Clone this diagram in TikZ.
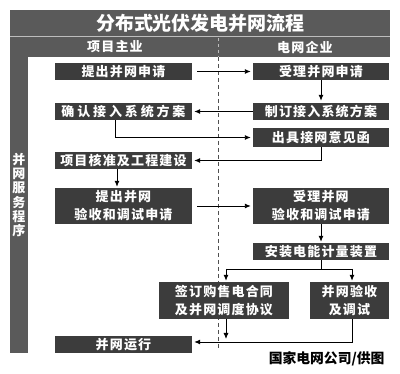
\documentclass[tikz,border=0pt]{standalone}
\usepackage{fontspec}
\newfontfamily\cjk{Noto Sans CJK SC}
\newfontfamily\cjksp[LetterSpace=9]{Noto Sans CJK SC}
\usetikzlibrary{arrows.meta}
\definecolor{framegray}{HTML}{5A5A5A}
\definecolor{boxgray}{HTML}{3C3C3C}
\definecolor{lightline}{HTML}{BDBDBD}
\definecolor{dashgray}{HTML}{505050}
\begin{document}
\begin{tikzpicture}[x=1pt,y=-1pt,
  flowbox/.style={fill=boxgray,text=white,inner sep=0pt,align=center,
    font=\cjksp\bfseries\fontsize{13}{18}\selectfont},
  conn/.style={line width=0.9pt,-{Latex[length=6pt,width=5pt]}},
  plain/.style={line width=0.9pt}]
\useasboundingbox (0,0) rectangle (400,374);
% frame
\fill[framegray] (10,10) rectangle (390,57);
\fill[framegray] (10,57) rectangle (28,353);
\draw[lightline,line width=0.8pt] (10,36.5) -- (390,36.5);
\draw[lightline,line width=0.8pt,dash pattern=on 3pt off 3pt] (218,38) -- (218,57);
\draw[dashgray,line width=0.8pt,dash pattern=on 4pt off 3pt] (218,57) -- (218,348);
\node[text=white,font=\cjk\bfseries\fontsize{19}{20}\selectfont] (title) at (200.5,23) {分布式光伏发电并网流程};
\node[text=white,font=\cjksp\bfseries\fontsize{13}{14}\selectfont] (hl) at (115,47) {项目主业};
\node[text=white,font=\cjksp\bfseries\fontsize{13}{14}\selectfont] (hr) at (305,47) {电网企业};
\node[text=white,font=\cjk\bfseries\fontsize{13}{14.2}\selectfont,align=center,inner sep=0pt] (side) at (19,195) {并\\网\\服\\务\\程\\序};
% boxes
\node[flowbox,minimum width=137pt,minimum height=17pt] (b1) at (123.5,71.5) {提出并网申请};
\node[flowbox,minimum width=136pt,minimum height=17pt] (b2) at (321,71.5) {受理并网申请};
\node[flowbox,minimum width=137pt,minimum height=17pt] (b3) at (123.5,111.5) {\addfontfeature{LetterSpace=22}确认接入系统方案};
\node[flowbox,minimum width=136pt,minimum height=17pt] (b4) at (321,111.5) {制订接入系统方案};
\node[flowbox,minimum width=136pt,minimum height=19pt] (b5) at (321,137.5) {出具接网意见函};
\node[flowbox,minimum width=137pt,minimum height=17pt] (b6) at (123.5,160.5) {项目核准及工程建设};
\node[flowbox,minimum width=137pt,minimum height=36pt] (b7) at (123.5,206) {提出并网\\验收和调试申请};
\node[flowbox,minimum width=136pt,minimum height=36pt] (b8) at (321,206) {受理并网\\验收和调试申请};
\node[flowbox,minimum width=136pt,minimum height=17pt] (b9) at (321,251.5) {安装电能计量装置};
\node[flowbox,minimum width=130pt,minimum height=37pt] (b10) at (224,300.5) {签订购售电合同\\及并网调度协议};
\node[flowbox,minimum width=79pt,minimum height=37pt] (b11) at (349.5,300.5) {并网验收\\及调试};
\node[flowbox,minimum width=137pt,minimum height=17pt] (b12) at (123.5,344.5) {并网运行};
\node[text=black,font=\cjk\bfseries\fontsize{13.8}{14}\selectfont,anchor=east] (credit) at (388,359) {国家电网公司/供图};
% connectors
\draw[conn,shorten <=5pt,shorten >=2pt] (b1) -- (b2);
\draw[conn,shorten >=2pt] (b2) -- (b4);
\draw[conn,shorten >=2pt] (b4) -- (b3);
\draw[conn,shorten >=2pt] ([xshift=-8.5pt]b3.south) |- (b5.west);
\draw[conn,shorten >=2pt] (b5.south) |- (b6.east);
\draw[conn,shorten >=1pt] ([xshift=-6.5pt]b6.south) -- ([xshift=-6.5pt]b7.north);
\draw[conn,shorten <=5pt,shorten >=2pt] (b7) -- (b8);
\draw[conn,shorten >=1pt] (b8) -- (b9);
\coordinate (split) at (321,269);
\coordinate (sl) at (226,269);
\coordinate (sr) at (352,269);
\draw[plain] (b9.south) -- (split);
\draw[plain] (sl) -- (sr);
\draw[conn,shorten >=1pt] (sl) -- ([xshift=2pt]b10.north);
\draw[conn,shorten >=1pt] (sr) -- ([xshift=2.5pt]b11.north);
\coordinate (mergeend) at (226,339);
\draw[conn] ([xshift=2pt]b10.south) -- (mergeend);
\draw[conn,shorten >=2pt] ([xshift=2.5pt]b11.south) |- ([yshift=2.5pt]b12.east);
\end{tikzpicture}
\end{document}
